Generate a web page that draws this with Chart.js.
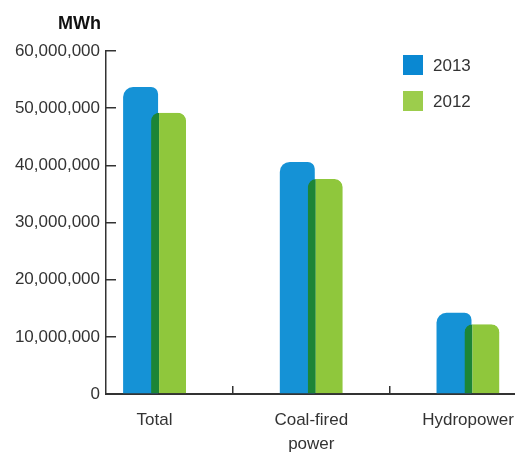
<!DOCTYPE html>
<html>
<head>
<meta charset="utf-8">
<script src="https://cdn.jsdelivr.net/npm/chart.js@4/dist/chart.umd.min.js"></script>
<style>
  html, body { margin: 0; padding: 0; background: #fff; overflow: hidden; }
  #wrap { width: 515px; height: 452px; }
</style>
</head>
<body>
<div id="wrap"><canvas id="myChart" width="515" height="452"></canvas></div>
<script>
// data (MWh)
const categories = [['Total'], ['Coal-fired', 'power'], ['Hydropower']];
const seriesNames = ['2013', '2012'];
const values2013 = [53700000, 40600000, 14200000];
const values2012 = [49200000, 37600000, 12200000];
const yTicks = [0, 10000000, 20000000, 30000000, 40000000, 50000000, 60000000];

const FONT = "'Liberation Sans', Arial, sans-serif";
const INK = '#333333';

const toPoints = arr => arr.map((v, i) => ({ x: i, y: v }));

// draw the datasets in index order so 2012 sits over 2013
const drawOrder = {
    id: 'drawOrder',
    beforeDatasetsDraw(chart) {
        chart.getSortedVisibleDatasetMetas().forEach(m => m.controller.draw());
        return false;
    }
};

const extras = {
    id: 'extras',
    afterDraw(chart) {
        const ctx = chart.ctx;
        const area = chart.chartArea;
        ctx.save();
        // unit label
        ctx.fillStyle = '#111';
        ctx.font = 'bold 18px ' + FONT;
        ctx.textAlign = 'right';
        ctx.textBaseline = 'alphabetic';
        ctx.fillText('MWh', chart.scales.y.right - 5, 29);
        // legend
        ctx.font = '17px ' + FONT;
        ctx.textAlign = 'left';
        ctx.textBaseline = 'middle';
        chart.data.datasets.forEach((ds, i) => {
            const x = area.right - 112;
            const y = 55 + i * 36;
            ctx.fillStyle = ds.legendColor;
            ctx.fillRect(x, y, 20, 20);
            ctx.fillStyle = INK;
            ctx.fillText(ds.label, x + 30, y + 11);
        });
        ctx.restore();
    }
};

new Chart(document.getElementById('myChart'), {
    type: 'bar',
    data: {
        datasets: [{
            label: seriesNames[0],
            data: toPoints(values2013),
            backgroundColor: '#1592d6',
            legendColor: '#0a88d2',
            borderWidth: 0,
            borderRadius: { topLeft: 10, topRight: 7 },
            borderSkipped: 'bottom'
        }, {
            label: seriesNames[1],
            data: toPoints(values2012),
            backgroundColor: '#8fc73c',
            legendColor: '#9ccd4c',
            borderColor: '#1c8537',
            borderWidth: { left: 8, top: 0, right: 0, bottom: 0 },
            borderRadius: { topLeft: 8, topRight: 8 },
            borderSkipped: 'bottom'
        }]
    },
    options: {
        responsive: false,
        animation: false,
        categoryPercentage: 0.714,
        barPercentage: 1.25,
        layout: { padding: { top: 51, left: 0, right: 0, bottom: 0 } },
        plugins: {
            legend: { display: false },
            tooltip: { enabled: false }
        },
        scales: {
            x: {
                type: 'linear',
                offset: false,
                min: -0.31,
                max: 2.3,
                afterBuildTicks: scale => {
                    scale.ticks = [0, 0.5, 1, 1.5, 2].map(v => ({ value: v }));
                },
                afterFit: scale => {
                    scale.height = 58;
                    scale.paddingLeft = 0;
                    scale.paddingRight = 0;
                },
                border: { display: true, color: INK, width: 2 },
                grid: {
                    offset: false,
                    drawOnChartArea: false,
                    drawTicks: true,
                    tickLength: -8,
                    lineWidth: 1.5,
                    color: c => (c.tick && c.tick.value % 1 !== 0) ? INK : 'rgba(0,0,0,0)'
                },
                ticks: {
                    autoSkip: false,
                    maxRotation: 0,
                    padding: 22,
                    color: INK,
                    font: { family: FONT, size: 17, lineHeight: 1.42 },
                    callback: v => (v % 1 === 0 ? categories[v] : '')
                }
            },
            y: {
                min: 0,
                max: 60000000,
                afterBuildTicks: scale => {
                    scale.ticks = yTicks.map(v => ({ value: v }));
                },
                afterFit: scale => { scale.width = 106; },
                border: { display: true, color: INK, width: 1.5 },
                grid: {
                    drawOnChartArea: false,
                    drawTicks: true,
                    tickLength: -10,
                    lineWidth: 1.5,
                    color: INK
                },
                ticks: {
                    padding: 16,
                    color: INK,
                    font: { family: FONT, size: 17 },
                    callback: v => v.toLocaleString('en-US')
                }
            }
        }
    },
    plugins: [drawOrder, extras]
});
</script>
</body>
</html>
